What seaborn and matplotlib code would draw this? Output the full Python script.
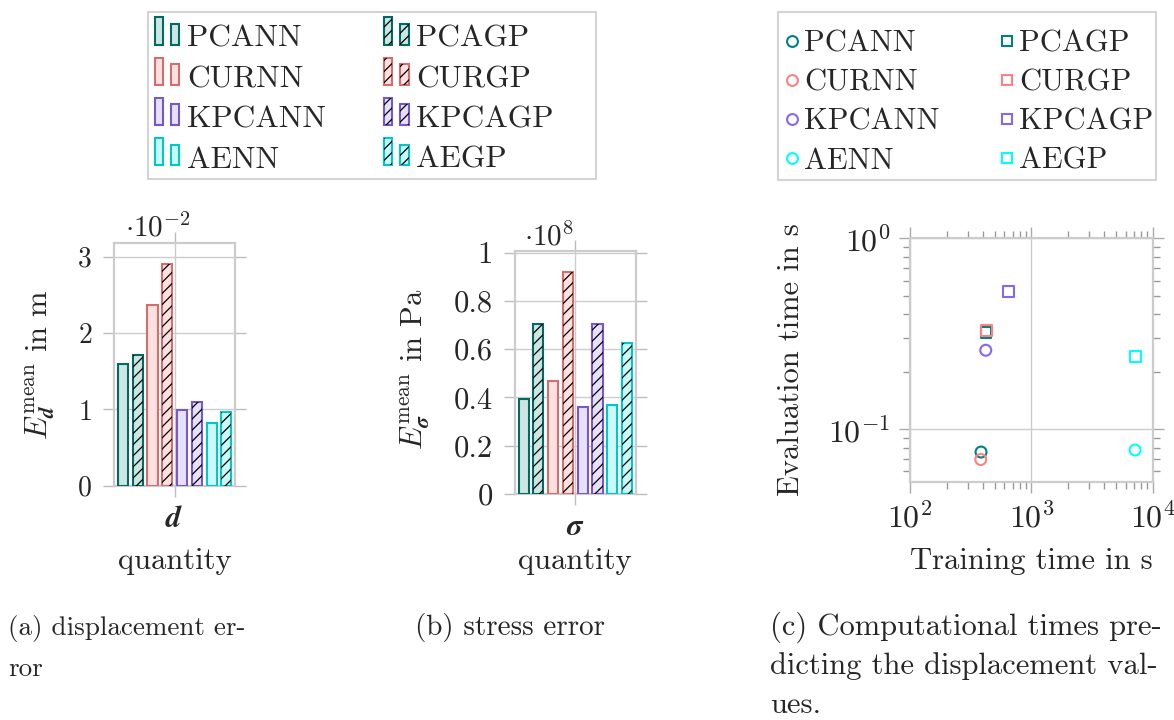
import matplotlib
matplotlib.use("Agg")
import matplotlib.pyplot as plt
from matplotlib.patches import Rectangle
from matplotlib.lines import Line2D
from matplotlib.legend_handler import HandlerBase
from matplotlib.ticker import FuncFormatter, NullFormatter, FixedLocator
import numpy as np
import pandas as pd
import seaborn as sns

# ---------------------------------------------------------------- data
bar_order = ["PCANN", "PCAGP", "CURNN", "CURGP", "KPCANN", "KPCAGP", "AENN", "AEGP"]
legend_order = ["PCANN", "CURNN", "KPCANN", "AENN", "PCAGP", "CURGP", "KPCAGP", "AEGP"]

# mean displacement error, in units of 1e-2 m (bar_order)
disp_error = [1.60, 1.71, 2.37, 2.90, 0.99, 1.10, 0.82, 0.96]
disp_exponent = -2
# mean stress error, in units of 1e8 Pa (bar_order)
stress_error = [0.395, 0.705, 0.468, 0.919, 0.362, 0.703, 0.368, 0.624]
stress_exponent = 8

# computational times in s (legend_order)
train_time = [385, 383, 421, 7160, 423, 428, 643, 7260]
eval_time = [0.0758, 0.0693, 0.259, 0.0777, 0.321, 0.330, 0.525, 0.241]

# ---------------------------------------------------------------- styles
bar_edge = {"PCA": "#006b66", "CUR": "#d26e6e", "KPCA": "#7658c8", "AE": "#00c8c8"}
bar_fill = {"PCA": "#cde6e3", "CUR": "#fde1e1", "KPCA": "#e6e1f8", "AE": "#ccf8f8"}
pt_color = {"PCA": "#008080", "CUR": "#ff8080", "KPCA": "#8866ee", "AE": "#00ffff"}


def family(name):
    return name[:-2]


def is_gp(name):
    return name.endswith("GP")


sns.set_style("white")
plt.rcParams.update({
    "font.family": "cmr10",
    "mathtext.fontset": "cm",
    "axes.unicode_minus": False,
    "axes.formatter.use_mathtext": True,
    "hatch.linewidth": 0.9,
})

GRID = "#cccccc"
TICK = "#bdbdbd"
FS = 22

W, H = 1174, 720
fig = plt.figure(figsize=(W / 100, H / 100), dpi=100)


def px_axes(left, right, top, bottom):
    return fig.add_axes([left / W, 1 - bottom / H, (right - left) / W, (bottom - top) / H])


ax_a = px_axes(114.3, 235.0, 242.7, 485.7)
ax_b = px_axes(515.0, 635.7, 250.7, 494.0)
ax_c = px_axes(910.0, 1152.7, 238.3, 481.7)


def bar_panel(ax, values, quantity, ymax, yticks, exponent, ylabel, tick_fs, label_y, mult_xy):
    df = pd.DataFrame({"quantity": [quantity] * len(bar_order),
                       "method": bar_order, "value": values})
    sns.barplot(data=df, x="quantity", y="value", hue="method", hue_order=bar_order,
                palette={m: bar_fill[family(m)] for m in bar_order}, saturation=1,
                width=0.8, gap=0.32, linewidth=1.5, legend=False, ax=ax, zorder=3)
    for cont, m in zip(ax.containers, bar_order):
        for bar in cont:
            bar.set_edgecolor(bar_edge[family(m)])
            bar.set_linewidth(1.5)
            if is_gp(m):
                ax.add_patch(Rectangle(bar.get_xy(), bar.get_width(), bar.get_height(),
                                       facecolor="none", edgecolor="black", linewidth=0,
                                       hatch="///", zorder=3.5))
    ax.set_xlim(-0.409, 0.409)
    ax.set_ylim(0, ymax)
    ax.yaxis.set_major_locator(FixedLocator(yticks))
    ax.yaxis.set_major_formatter(FuncFormatter(lambda v, p: f"{v:g}"))
    ax.set_axisbelow(True)
    ax.grid(True, color=GRID, linewidth=1.0)
    for s in ax.spines.values():
        s.set_visible(True)
        s.set_color(GRID)
        s.set_linewidth(1.6)
    ax.tick_params(axis="y", which="major", direction="out", length=8, width=1,
                   color=TICK, left=True, right=True, labelsize=tick_fs, pad=8)
    ax.tick_params(axis="x", which="major", direction="out", length=8, width=1,
                   color=TICK, top=True, bottom=True, labelsize=FS, pad=6)
    ax.set_xlabel("quantity", fontsize=FS)
    ax.xaxis.set_label_coords(0.5, label_y)
    ax.set_ylabel(ylabel, fontsize=FS)
    ax.text(mult_xy[0], mult_xy[1], rf"$\cdot 10^{{{exponent}}}$", transform=ax.transAxes,
            fontsize=21, ha="left", va="baseline")


bar_panel(ax_a, disp_error, r"$\mathbfit{d}$", 3.185, [0, 1, 2, 3], disp_exponent,
          r"$E^{\mathrm{mean}}_{\mathbfit{d}}$ in m", 20, -0.256, (0.085, 1.027))
ax_a.yaxis.set_label_coords(-0.475, 0.5)

bar_panel(ax_b, stress_error, r"$\mathbfit{\sigma}$", 1.008,
          [0, 0.2, 0.4, 0.6, 0.8, 1.0], stress_exponent,
          r"$E^{\mathrm{mean}}_{\mathbfit{\sigma}}$ in Pa", 22, -0.222, (0.075, 1.023))
ax_b.yaxis.set_label_coords(-0.688, 0.514)

# ---------------------------------------------------------------- timing scatter
df_t = pd.DataFrame({
    "method": legend_order,
    "model": ["GP" if is_gp(m) else "NN" for m in legend_order],
    "train": train_time,
    "eval": eval_time,
})
sns.scatterplot(data=df_t, x="train", y="eval", hue="method", hue_order=legend_order,
                palette={m: pt_color[family(m)] for m in legend_order},
                style="model", markers={"NN": "o", "GP": "s"}, s=62,
                legend=False, ax=ax_c, zorder=3)
coll = ax_c.collections[0]
fc = coll.get_facecolors()
coll.set_edgecolors(fc)
coll.set_facecolors("none")
coll.set_linewidths(1.5)

ax_c.set_xscale("log")
ax_c.set_yscale("log")
ax_c.set_xlim(1e2, 1e4)
ax_c.set_ylim(0.053, 1.0)
ax_c.xaxis.set_minor_formatter(NullFormatter())
ax_c.yaxis.set_minor_formatter(NullFormatter())
ax_c.set_axisbelow(True)
ax_c.grid(True, which="major", color=GRID, linewidth=1.0)
for s in ax_c.spines.values():
    s.set_visible(True)
    s.set_color(GRID)
    s.set_linewidth(1.6)
ax_c.tick_params(which="major", direction="out", length=8, width=1, color="#aaaaaa",
                 left=True, right=True, top=True, bottom=True, labelsize=23, pad=6)
ax_c.tick_params(which="minor", direction="out", length=5, width=1, color="#999999",
                 left=True, right=True, top=True, bottom=True)
ax_c.set_xlabel("Training time in s", fontsize=FS)
ax_c.xaxis.set_label_coords(0.5, -0.272)
ax_c.set_ylabel("Evaluation time in s", fontsize=FS)
ax_c.yaxis.set_label_coords(-0.433, 0.5)


# ---------------------------------------------------------------- legends
class BarPair:
    def __init__(self, face, edge, hatched):
        self.face, self.edge, self.hatched = face, edge, hatched


class BarPairHandler(HandlerBase):
    def create_artists(self, legend, orig_handle, xdescent, ydescent, width, height,
                       fontsize, trans):
        w = width * 0.34
        y0 = -ydescent + 0.1 * height
        arts = []
        for x, h in ((-xdescent, 1.25 * height), (-xdescent + width - w, 0.95 * height)):
            arts.append(Rectangle((x, y0), w, h, facecolor=orig_handle.face,
                                  edgecolor=orig_handle.edge, linewidth=1.5, transform=trans))
            if orig_handle.hatched:
                arts.append(Rectangle((x, y0), w, h, facecolor="none", edgecolor="black",
                                      linewidth=0, hatch="///", transform=trans))
        return arts


bar_handles = [BarPair(bar_fill[family(m)], bar_edge[family(m)], is_gp(m)) for m in legend_order]
fig.legend(bar_handles, legend_order, handler_map={BarPair: BarPairHandler()},
           ncol=2, loc="upper left", bbox_to_anchor=(155 / W, 1 - 25 / H),
           frameon=False, borderpad=0, borderaxespad=0, handlelength=0.78,
           handletextpad=0.24, columnspacing=1.85, labelspacing=0.39,
           prop={"family": "cmr10", "size": 22.6})

pt_handles = [Line2D([], [], linestyle="none", marker="s" if is_gp(m) else "o",
                     markersize=7.8, markerfacecolor="none", markeredgewidth=1.5,
                     markeredgecolor=pt_color[family(m)]) for m in legend_order]
fig.legend(pt_handles, legend_order, ncol=2, loc="upper left",
           bbox_to_anchor=(786 / W, 1 - 30 / H), frameon=False, borderpad=0,
           borderaxespad=0, handlelength=0.4, handletextpad=0.2, columnspacing=2.0,
           labelspacing=0.38, prop={"family": "cmr10", "size": FS})

for (x0, y0, x1, y1) in ((148, 12, 596, 179), (778, 12, 1156, 180)):
    fig.add_artist(Rectangle((x0 / W, 1 - y1 / H), (x1 - x0) / W, (y1 - y0) / H,
                             transform=fig.transFigure, fill=False,
                             edgecolor="#d4d4d4", linewidth=1.5))

# ---------------------------------------------------------------- captions
captions = [
    (8, 19.5, [(635, "(a) displacement er-"), (676, "ror")]),
    (415, 21, [(635, "(b) stress error")]),
    (770, 22, [(635, "(c) Computational times pre-"),
               (674, "dicting the displacement val-"),
               (713, "ues.")]),
]
for x, size, lines in captions:
    for y, line in lines:
        fig.text(x / W, 1 - y / H, line, fontsize=size, ha="left", va="baseline")

fig.savefig("out.png", dpi=100)
